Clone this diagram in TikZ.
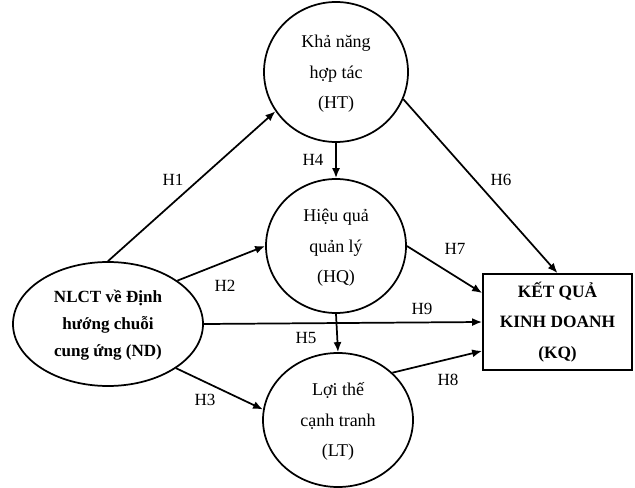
\documentclass[tikz,border=0pt]{standalone}
\usepackage{fontspec}
\setmainfont{Liberation Serif}
\usetikzlibrary{shapes.geometric, arrows, arrows.meta, calc, positioning}
\tikzstyle{bubble} = [ellipse, draw=black, line width=1.3pt, inner sep=0pt, font=\fontsize{13.5}{23}\selectfont]
\tikzstyle{result} = [rectangle, draw=black, line width=1.3pt, inner sep=0pt, minimum width=111.75pt, minimum height=72pt, align=center, font=\bfseries\fontsize{13}{23}\selectfont]
\tikzstyle{hyp} = [font=\fontsize{12.8}{15}\selectfont]
\tikzstyle{arrow} = [line width=1.3pt,-{Latex[length=7.5pt,width=6pt]}]
\newcommand{\lowtext}[1]{\raisebox{-3.4pt}{\begin{tabular}{@{}c@{}}#1\end{tabular}}}

\begin{document}
\begin{tikzpicture}[x=0.75pt, y=-0.75pt]
	\useasboundingbox (0,0) rectangle (635,488);
	\node (ND) [bubble, minimum width=142.5pt, minimum height=93pt, font=\bfseries\fontsize{12.8}{20.6}\selectfont] at (108,324) {\lowtext{NLCT về Định\\hướng chuỗi\\cung ứng (ND)}};
	\node (HT) [bubble, minimum width=108pt, minimum height=105pt] at (336,72) {\lowtext{Khả năng\\hợp tác\\(HT)}};
	\node (HQ) [bubble, minimum width=105pt, minimum height=100.5pt] at (336,246) {\lowtext{Hiệu quả\\quản lý\\(HQ)}};
	\node (LT) [bubble, minimum width=112.5pt, minimum height=100.5pt] at (338,420) {\lowtext{Lợi thế\\cạnh tranh\\(LT)}};
	\node (KQ) [result] at (557.5,322) {KẾT QUẢ\\KINH DOANH\\(KQ)};
	\draw [arrow] (ND.90) -- (HT.213);
	\draw [arrow] (ND.32) -- (HQ.west);
	\draw [arrow] (ND.-33) -- (LT.172);
	\draw [arrow] (ND.east) -- (KQ.west);
	\draw [arrow] (HT.south) -- (HQ.north);
	\draw [arrow] (HQ.south) -- (LT.north);
	\draw [arrow] (HT.-22) -- (KQ.north);
	\draw [arrow] (HQ.east) -- (KQ.159);
	\draw [arrow] (LT.41) -- (KQ.201);
	\node (H1) [hyp] at (173,180) {H1};
	\node (H2) [hyp] at (225,286) {H2};
	\node (H3) [hyp] at (205,400) {H3};
	\node (H4) [hyp] at (313,160) {H4};
	\node (H5) [hyp] at (306,338) {H5};
	\node (H6) [hyp] at (501,180) {H6};
	\node (H7) [hyp] at (455,249) {H7};
	\node (H8) [hyp] at (448,380) {H8};
	\node (H9) [hyp] at (422,309) {H9};
\end{tikzpicture}
\end{document}
